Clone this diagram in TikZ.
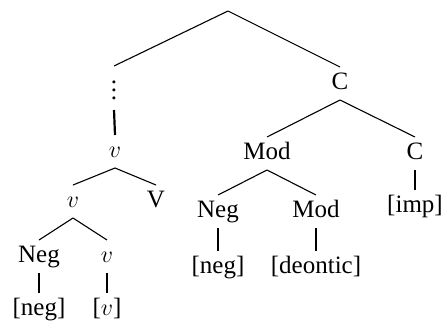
\documentclass[tikz,border=0pt]{standalone}
\usepackage{fontspec}
\setmainfont{Liberation Serif}
\begin{document}
\begin{tikzpicture}[x=0.5pt,y=-0.5pt,
  lab/.style={anchor=base,inner sep=0pt,outer sep=2pt,
    text height=9pt,text depth=3.5pt,
    font=\fontsize{12.5}{15}\selectfont},
  branch/.style={line width=0.55pt},
  stem/.style={line width=1.1pt}]
\useasboundingbox (0,0) rectangle (443,322);

% root and the path down to the verb phrase
\coordinate (root) at (228,11);
\node[lab,text height=14.5pt] (dots) at (114,99) {\vdots};
\node[lab] (vtop) at (115,157) {$v$};
\node[lab] (vmid) at (73,207) {$v$};
\node[lab] (bigV) at (156,207) {V};
\node[lab] (negL) at (39,262) {Neg};
\node[lab] (vlow) at (107,262) {$v$};
\node[lab] (negLf) at (39,315) {[neg]};
\node[lab] (vf) at (107,315) {[$v$]};

% complementiser side
\node[lab] (Ctop) at (340,89) {C};
\node[lab] (modT) at (267,159) {Mod};
\node[lab] (Cr) at (415,159) {C};
\node[lab] (imp) at (415,212) {[imp]};
\node[lab] (negR) at (218,217) {Neg};
\node[lab] (modR) at (316,217) {Mod};
\node[lab] (negRf) at (218,273) {[neg]};
\node[lab] (deon) at (316,273) {[deontic]};

% branches
\draw[branch] (root) -- (dots.north);
\draw[branch] (root) -- (Ctop.north);
\draw[stem] (dots.south) -- (vtop.north);
\draw[branch] (vtop.south) -- (vmid.north);
\draw[branch] (vtop.south) -- (bigV.north);
\draw[branch] (vmid.south) -- (negL.north);
\draw[branch] (vmid.south) -- (vlow.north);
\draw[stem] (negL.south) -- (negLf.north);
\draw[stem] (vlow.south) -- (vf.north);

\draw[branch] (Ctop.south) -- (modT.north);
\draw[branch] (Ctop.south) -- (Cr.north);
\draw[stem] (Cr.south) -- (imp.north);
\draw[branch] (modT.south) -- (negR.north);
\draw[branch] (modT.south) -- (modR.north);
\draw[stem] (negR.south) -- (negRf.north);
\draw[stem] (modR.south) -- (deon.north);
\end{tikzpicture}
\end{document}
